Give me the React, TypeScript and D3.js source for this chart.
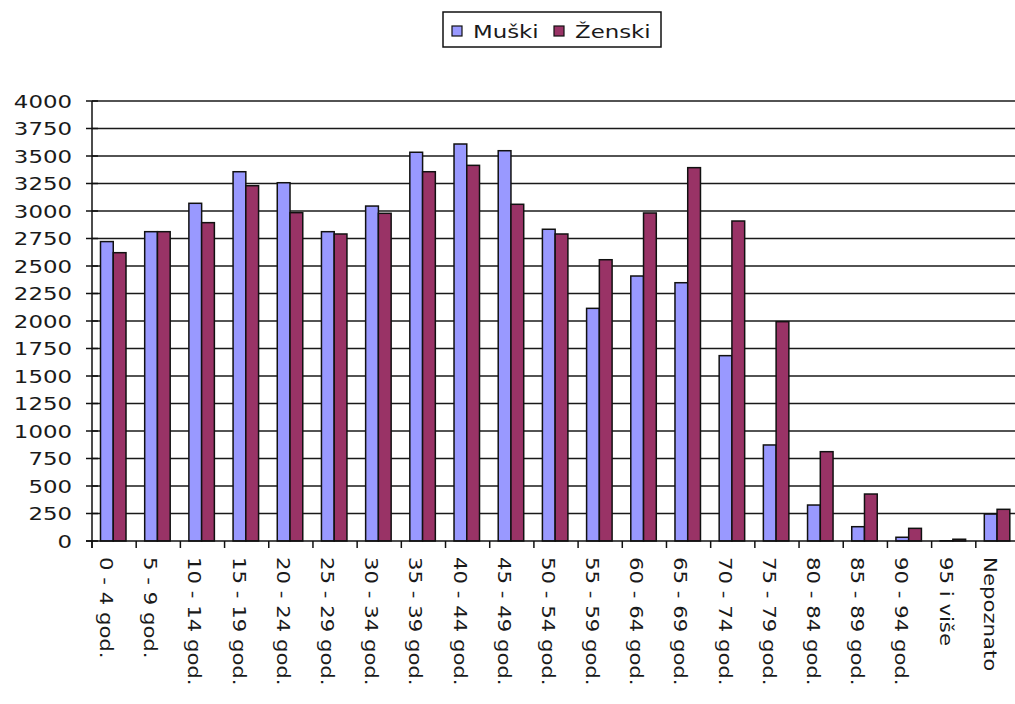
import React from "react";
import * as d3 from "d3";

const categories = [
  "0 - 4 god.", "5 - 9 god.", "10 - 14 god.", "15 - 19 god.", "20 - 24 god.",
  "25 - 29 god.", "30 - 34 god.", "35 - 39 god.", "40 - 44 god.", "45 - 49 god.",
  "50 - 54 god.", "55 - 59 god.", "60 - 64 god.", "65 - 69 god.", "70 - 74 god.",
  "75 - 79 god.", "80 - 84 god.", "85 - 89 god.", "90 - 94 god.", "95 i više", "Nepoznato",
];
const seriesNames = ["Muški", "Ženski"];
const muski = [2722, 2812, 3070, 3357, 3257, 2812, 3045, 3534, 3609, 3548, 2834, 2115, 2409, 2348, 1685, 873, 327, 130, 34, 2, 245];
const zenski = [2621, 2812, 2894, 3230, 2985, 2791, 2979, 3357, 3415, 3061, 2791, 2557, 2982, 3394, 2909, 1994, 812, 427, 115, 16, 288];
const yTicks = [0, 250, 500, 750, 1000, 1250, 1500, 1750, 2000, 2250, 2500, 2750, 3000, 3250, 3500, 3750, 4000];
const colors = ["#9999FF", "#993366"];

const W = 1015, H = 704;
const left = 92, right = 1020, top = 101, bottom = 541;
const FONT = "'DejaVu Sans', Verdana, sans-serif";

export default function App() {
  const x0 = d3.scaleBand<string>().domain(categories).range([left, right]).padding(0);
  const x1 = d3.scaleBand<string>().domain(seriesNames).range([8.5, 34]).padding(0);
  const y = d3.scaleLinear().domain([0, 4000]).range([bottom, top]);
  const data = [muski, zenski];

  return (
    <svg width={W} height={H} style={{ position: "absolute", left: 0, top: 0, background: "#fff" }}
      fontFamily={FONT}>
      <rect x={0} y={0} width={W} height={H} fill="#fff" />
      {/* gridlines */}
      {yTicks.filter(t => t > 0).map(t => (
        <line key={"g" + t} x1={left} x2={right} y1={y(t)} y2={y(t)} stroke="#1a1a1a" strokeWidth={1.5} />
      ))}
      {/* bars */}
      {categories.map((c, i) => (
        <g key={c}>
          {seriesNames.map((s, k) => {
            const v = data[k][i];
            const bx = (x0(c) as number) + (x1(s) as number);
            return (
              <rect key={s} x={bx} y={y(v)} width={x1.bandwidth()} height={bottom - y(v)}
                fill={colors[k]} stroke="#111" strokeWidth={1.5} />
            );
          })}
        </g>
      ))}
      {/* axes */}
      <line x1={left} x2={left} y1={top} y2={bottom + 7} stroke="#111" strokeWidth={1.5} />
      <line x1={left - 6} x2={right} y1={bottom} y2={bottom} stroke="#111" strokeWidth={1.5} />
      {yTicks.map(t => (
        <g key={"yt" + t}>
          <line x1={left - 6} x2={left + 6} y1={y(t)} y2={y(t)} stroke="#111" strokeWidth={1.5} />
          <text transform={`translate(72,${y(t) + 6.5}) scale(1.27,1)`} textAnchor="end" fontSize={18} fill="#1a1a1a">{t}</text>
        </g>
      ))}
      {categories.map((c, i) => (
        <line key={"xt" + i} x1={x0(c) as number} x2={x0(c) as number} y1={bottom} y2={bottom + 7} stroke="#111" strokeWidth={1.5} />
      ))}
      {categories.map(c => (
        <text key={"xl" + c} transform={`translate(${(x0(c) as number) + 8},557) rotate(90) scale(1.18,1)`}
          textAnchor="start" fontSize={18} fill="#1a1a1a">{c}</text>
      ))}
      {/* legend */}
      <rect x={443} y={12} width={218} height={35} fill="#fff" stroke="#111" strokeWidth={1.5} />
      {seriesNames.map((s, k) => {
        const lx = k === 0 ? 452 : 554;
        return (
          <g key={"lg" + s}>
            <rect x={lx} y={26} width={10} height={10} fill={colors[k]} stroke="#111" strokeWidth={1.2} />
            <text transform={`translate(${lx + 21},38) scale(1.27,1)`} fontSize={18} fill="#1a1a1a">{s}</text>
          </g>
        );
      })}
    </svg>
  );
}
